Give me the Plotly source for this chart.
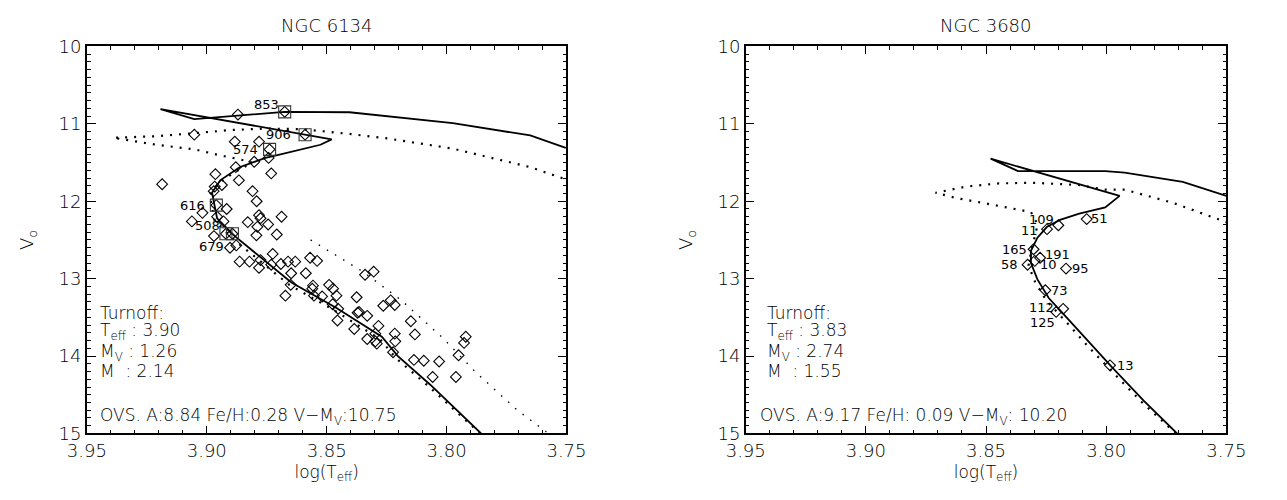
import plotly.graph_objects as go

# ---------------- NGC 6134 (left) ----------------
iso_solid_L_x = [3.7856, 3.8068, 3.8203, 3.8270, 3.8459, 3.8647, 3.8883, 3.8957, 3.8978, 3.8944,
                 3.8863, 3.8755, 3.8701, 3.8526, 3.8479, 3.9193, 3.9052, 3.8870, 3.8675, 3.8405,
                 3.8243, 3.7974, 3.7651, 3.7503]
iso_solid_L_v = [15.00, 14.37, 14.00, 13.75, 13.38, 13.05, 12.45, 12.22, 11.89, 11.73,
                 11.56, 11.44, 11.40, 11.27, 11.20, 10.81, 10.94, 10.895, 10.845, 10.85,
                 10.90, 10.99, 11.15, 11.31]

iso_dot_L_x = [3.7860, 3.8075, 3.8210, 3.8278, 3.8468, 3.8656, 3.8893, 3.8967, 3.8988, 3.8950,
               3.8870, 3.8810, 3.8860, 3.8940, 3.9050, 3.9210, 3.9390, 3.9210, 3.9050, 3.8900,
               3.8750, 3.8600, 3.8405, 3.8243, 3.7974, 3.7800, 3.7650, 3.7500]
iso_dot_L_v = [15.00, 14.39, 14.03, 13.78, 13.41, 13.08, 12.48, 12.25, 11.92, 11.76,
               11.60, 11.50, 11.46, 11.41, 11.33, 11.27, 11.18, 11.16, 11.12, 11.08,
               11.06, 11.07, 11.13, 11.19, 11.32, 11.45, 11.56, 11.72]

binary_L_x = [3.8567, 3.8351, 3.8190, 3.8014, 3.7880, 3.7705, 3.7584]
binary_L_v = [12.50, 12.905, 13.276, 13.771, 14.204, 14.699, 14.979]

stars_L_x = [3.8870, 3.9052, 3.8883, 3.8782, 3.8742, 3.8802, 3.8879, 3.8964, 3.9186, 3.8866,
             3.8731, 3.8937, 3.8967, 3.8809, 3.8792, 3.9018, 3.8917, 3.8957, 3.9062, 3.8782,
             3.8776, 3.8688, 3.8829, 3.8789, 3.8744, 3.8793, 3.8708, 3.8930, 3.8970, 3.8903,
             3.8877, 3.8863, 3.8822, 3.8725, 3.8776, 3.8782, 3.8731, 3.8691, 3.8661, 3.8631,
             3.8569, 3.8540, 3.8648, 3.8587, 3.8650, 3.8672, 3.8557, 3.8560, 3.8490, 3.8473,
             3.8459, 3.8519, 3.8553, 3.8475, 3.8452, 3.8371, 3.8365, 3.8331, 3.8375, 3.8455,
             3.8385, 3.8340, 3.8304, 3.8331, 3.8297, 3.8284, 3.8264, 3.8233, 3.8216, 3.8216,
             3.8214, 3.8297, 3.8223, 3.8291, 3.8149, 3.8132, 3.8136, 3.8095, 3.8031, 3.8058,
             3.7961, 3.7950, 3.7927, 3.7920, 3.8971,
             3.8675, 3.8590, 3.8738, 3.8960, 3.8920, 3.8893]
stars_L_v = [10.88, 11.14, 11.23, 11.23, 11.44, 11.49, 11.56, 11.65, 11.78, 11.73,
             11.64, 11.79, 11.81, 11.87, 12.00, 12.15, 12.10, 12.20, 12.26, 12.18,
             12.22, 12.20, 12.27, 12.33, 12.30, 12.44, 12.43, 12.26, 12.45, 12.60,
             12.57, 12.78, 12.78, 12.68, 12.76, 12.86, 12.82, 12.81, 12.78, 12.78,
             12.73, 12.77, 12.93, 12.93, 13.08, 13.22, 13.09, 13.13, 13.08, 13.13,
             13.22, 13.23, 13.22, 13.33, 13.39, 13.44, 13.43, 13.48, 13.24, 13.54,
             13.65, 12.95, 12.91, 13.78, 13.71, 13.61, 13.35, 13.28, 13.34, 13.71,
             13.81, 13.81, 13.95, 13.84, 13.55, 13.72, 14.05, 14.06, 14.07, 14.27,
             14.27, 13.99, 13.83, 13.75, 11.87,
             10.845, 11.14, 11.33, 12.05, 12.42, 12.42]

marked_L_x = [3.8675, 3.8590, 3.8738, 3.8960, 3.8920, 3.8893]
marked_L_v = [10.845, 11.14, 11.33, 12.05, 12.42, 12.42]
marked_L_id = ['853', '906', '574', '616', '508', '679']
marked_L_off = [(-18, -7), (-27, 0), (-24, 0), (-24, 0), (-18, -8), (-21, 13)]  # px (dx, dy down)

info_L = ['Turnoff:', 'T<sub>eff</sub> : 3.90', 'M<sub>V</sub> : 1.26', 'M  : 2.14']
ovs_L = 'OVS. A:8.84 Fe/H:0.28 V\u2212M<sub>V</sub>:10.75'

# ---------------- NGC 3680 (right) ----------------
iso_solid_R_x = [3.7705, 3.7843, 3.7977, 3.8058, 3.8165, 3.8239, 3.8286, 3.8313, 3.8313, 3.8286,
                 3.8246, 3.8192, 3.8112, 3.8004, 3.7944, 3.8481, 3.8367, 3.8004, 3.7923, 3.7681,
                 3.7500]
iso_solid_R_v = [15.00, 14.58, 14.14, 13.87, 13.50, 13.25, 13.01, 12.80, 12.64, 12.47,
                 12.33, 12.24, 12.16, 12.08, 11.93, 11.45, 11.61, 11.61, 11.63, 11.75,
                 11.93]

iso_dot_R_x = [3.7710, 3.7850, 3.7985, 3.8068, 3.8175, 3.8250, 3.8296, 3.8323, 3.8313, 3.8300,
               3.8285, 3.8313, 3.8407, 3.8515, 3.8622, 3.8710, 3.8582, 3.8448, 3.8313, 3.8112,
               3.8004, 3.7923, 3.7722, 3.7527, 3.7500]
iso_dot_R_v = [15.00, 14.60, 14.17, 13.90, 13.53, 13.28, 13.04, 12.83, 12.66, 12.48,
               12.30, 12.14, 12.08, 12.02, 11.96, 11.89, 11.81, 11.77, 11.76, 11.79,
               11.85, 11.85, 12.02, 12.24, 12.27]

stars_R_x = [3.8199, 3.8246, 3.8081, 3.8302, 3.8275, 3.8297, 3.8327, 3.8167, 3.8253, 3.8179,
             3.8208, 3.7984]
stars_R_v = [12.31, 12.36, 12.23, 12.62, 12.73, 12.77, 12.82, 12.87, 13.15, 13.39,
             13.43, 14.12]
stars_R_id = ['109', '11', '51', '165', '191', '10', '58', '95', '73', '112', '125', '13']
stars_R_off = [(-17, -6), (-18, 1), (13, -1), (-19, 0), (17, -3), (14, 4), (-18, 0), (14, 0),
               (14, 0), (-22, -1), (-14, 11), (15, 0)]

info_R = ['Turnoff:', 'T<sub>eff</sub> : 3.83', 'M<sub>V</sub> : 2.74', 'M  : 1.55']
ovs_R = 'OVS. A:9.17 Fe/H: 0.09 V\u2212M<sub>V</sub>: 10.20'

titles = ['NGC 6134', 'NGC 3680']
x_ticks = [3.95, 3.90, 3.85, 3.80, 3.75]
y_ticks = [10, 11, 12, 13, 14, 15]

# ---------------- figure ----------------
W, H = 1287, 500
FONT = 'DejaVu Sans'
fig = go.Figure()

def fnt(size, weight=200):
    return dict(size=size, family=FONT, color='black', weight=weight)

def add_line(x, y, xa, ya, dash, width):
    fig.add_trace(go.Scatter(x=x, y=y, mode='lines', xaxis=xa, yaxis=ya, showlegend=False,
                             line=dict(color='black', width=width, dash=dash), hoverinfo='skip'))

def add_diamonds(x, y, xa, ya):
    fig.add_trace(go.Scatter(x=x, y=y, mode='markers', xaxis=xa, yaxis=ya, showlegend=False,
                             marker=dict(symbol='diamond-open', size=8.3, color='black',
                                         line=dict(width=1.1, color='black'))))

# left
add_line(iso_solid_L_x, iso_solid_L_v, 'x', 'y', 'solid', 1.8)
add_line(iso_dot_L_x, iso_dot_L_v, 'x', 'y', '2px,7px', 2.2)
add_line(binary_L_x, binary_L_v, 'x', 'y', '1.5px,8px', 1.4)
add_diamonds(stars_L_x, stars_L_v, 'x', 'y')
fig.add_trace(go.Scatter(x=marked_L_x, y=marked_L_v, mode='markers', xaxis='x', yaxis='y',
                         showlegend=False,
                         marker=dict(symbol='square-open', size=12, color='#333',
                                     line=dict(width=1.1, color='#333'))))
# right
add_line(iso_solid_R_x, iso_solid_R_v, 'x2', 'y2', 'solid', 1.8)
add_line(iso_dot_R_x, iso_dot_R_v, 'x2', 'y2', '2px,7px', 2.2)
add_diamonds(stars_R_x, stars_R_v, 'x2', 'y2')

ann = []
for lab, xv, yv, (dx, dy) in zip(marked_L_id, marked_L_x, marked_L_v, marked_L_off):
    ann.append(dict(x=xv, y=yv, xref='x', yref='y', text=lab, showarrow=False,
                    xshift=dx, yshift=-dy, font=fnt(13, 400)))
for lab, xv, yv, (dx, dy) in zip(stars_R_id, stars_R_x, stars_R_v, stars_R_off):
    ann.append(dict(x=xv, y=yv, xref='x2', yref='y2', text=lab, showarrow=False,
                    xshift=dx, yshift=-dy, font=fnt(13, 400)))

# info text blocks
info_rows_px = [315, 335, 356, 376]
for xr, yr, info, ovs, x0, x0o in [('x domain', 'y domain', info_L, ovs_L, 80, 80),
                                   ('x2 domain', 'y2 domain', info_R, ovs_R, 769, 762)]:
    left = 69 if xr == 'x domain' else 749
    for t, py in zip(info, info_rows_px):
        ann.append(dict(x=(x0 - left) / 495, y=1 - (py - 37) / 404, xref=xr, yref=yr, text=t,
                        showarrow=False, xanchor='left', yanchor='middle', font=fnt(17)))
    ann.append(dict(x=(x0o - left) / 495, y=1 - (423 - 37) / 404, xref=xr, yref=yr, text=ovs,
                    showarrow=False, xanchor='left', yanchor='middle', font=fnt(17)))

for xr, t in [('x domain', titles[0]), ('x2 domain', titles[1])]:
    ann.append(dict(x=0.5, y=1 - 15 / H, xref=xr, yref='paper', text=t, showarrow=False,
                    xanchor='center', yanchor='middle', font=fnt(18)))

fig.update_layout(annotations=ann)

def xaxis_style(domain, anchor):
    return dict(domain=domain, anchor=anchor, range=[3.95, 3.75], autorange=False,
                tickmode='array', tickvals=x_ticks, ticktext=[f'{v:.2f}' for v in x_ticks],
                ticks='inside', ticklen=8, tickwidth=1.2, tickcolor='black',
                minor=dict(ticks='inside', ticklen=4, dtick=0.01, tick0=3.75, tickcolor='black',
                           tickwidth=1),
                showline=True, linecolor='black', linewidth=1.5, mirror='ticks',
                showgrid=False, zeroline=False,
                tickfont=fnt(18),
                title=dict(text='log(T<sub>eff</sub>)', standoff=6, font=fnt(17)))

def yaxis_style(domain, anchor):
    return dict(domain=domain, anchor=anchor, range=[15, 10], autorange=False,
                tickmode='array', tickvals=y_ticks, ticktext=[str(v) for v in y_ticks],
                ticks='inside', ticklen=9, tickwidth=1.2, tickcolor='black',
                minor=dict(ticks='inside', ticklen=4, dtick=0.1, tick0=10, tickcolor='black',
                           tickwidth=1),
                showline=True, linecolor='black', linewidth=1.5, mirror='ticks',
                showgrid=False, zeroline=False,
                tickfont=fnt(18),
                title=dict(text='V<sub>o</sub>', standoff=20, font=fnt(18)))

fig.update_layout(
    width=W, height=H,
    margin=dict(l=0, r=0, t=0, b=0),
    paper_bgcolor='white', plot_bgcolor='white',
    xaxis=xaxis_style([69 / W, 564 / W], 'y'),
    yaxis=yaxis_style([1 - 441 / H, 1 - 37 / H], 'x'),
    xaxis2=xaxis_style([749 / W, 1245 / W], 'y2'),
    yaxis2=yaxis_style([1 - 441 / H, 1 - 37 / H], 'x2'),
    font=dict(family=FONT, color='black'),
)

fig.write_html('out.html')
